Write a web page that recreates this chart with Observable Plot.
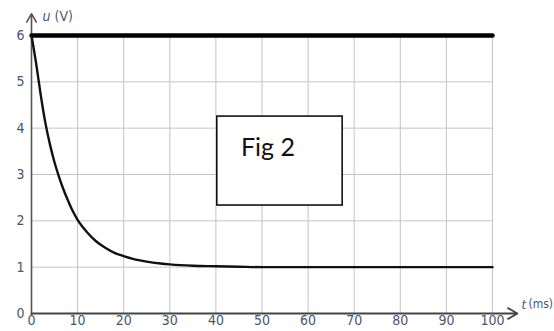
<!DOCTYPE html>
<html>
<head>
<meta charset="utf-8">
<script src="https://cdn.jsdelivr.net/npm/d3@7"></script>
<script src="https://cdn.jsdelivr.net/npm/@observablehq/plot@0.6"></script>
<style>
  html, body { margin: 0; padding: 0; background: #fff; }
  #chart { width: 554px; height: 331px; }
</style>
</head>
<body>
<div id="chart"></div>
<script>
// time (ms) and voltage (V)
const tMs = [0, 1, 2, 3, 4, 5, 6, 7, 8, 9, 10, 12, 14, 16, 18, 20, 22, 25, 28, 30, 35, 40, 45, 50, 60, 70, 80, 90, 100];
const uV  = [6.0, 5.4, 4.72, 4.12, 3.65, 3.26, 2.94, 2.66, 2.42, 2.2, 2.02, 1.76, 1.56, 1.42, 1.31, 1.24, 1.18, 1.12, 1.08, 1.06, 1.03, 1.02, 1.01, 1.0, 1.0, 1.0, 1.0, 1.0, 1.0];
const sourceT = [0, 100];
const sourceU = [6, 6];
const xTicks = [0, 10, 20, 30, 40, 50, 60, 70, 80, 90, 100];
const yTicks = [0, 1, 2, 3, 4, 5, 6];
const figLabel = "Fig 2";

const curve = tMs.map((t, i) => ({t, u: uV[i]}));
const source = sourceT.map((t, i) => ({t, u: sourceU[i]}));

const labelColor = "#4a5573";
const font = "'Liberation Sans Narrow', 'DejaVu Sans Condensed', 'Liberation Sans', sans-serif";

const chart = Plot.plot({
  width: 554,
  height: 331,
  marginLeft: 31,
  marginRight: 62,
  marginTop: 35,
  marginBottom: 18,
  x: {domain: [0, 100]},
  y: {domain: [0, 6]},
  style: {fontFamily: font, fontSize: "14px", background: "white", overflow: "visible"},
  marks: [
    Plot.gridX(xTicks.filter(d => d > 0), {stroke: "#c4c4c4", strokeOpacity: 1, strokeWidth: 1}),
    Plot.gridY(yTicks.filter(d => d > 0 && d < 6), {stroke: "#c4c4c4", strokeOpacity: 1, strokeWidth: 1}),
    Plot.axisX(xTicks, {tickSize: 0, tickPadding: 2, label: null, color: labelColor, fontSize: 14}),
    Plot.axisY(yTicks, {tickSize: 0, tickPadding: 7, label: null, color: labelColor, fontSize: 14}),
    // axes with arrows
    Plot.arrow([{}], {x1: 0, y1: -0.02, x2: 0, y2: 6.47, stroke: "#555", strokeWidth: 1.6, headLength: 9}),
    Plot.arrow([{}], {x1: 0, y1: 0, x2: 105.4, y2: 0, stroke: "#444", strokeWidth: 1.8, headLength: 9}),
    // axis labels
    Plot.text([{}], {x: 0, y: 6, text: () => "u", fontStyle: "italic", textAnchor: "start", dx: 11, dy: -19, fill: labelColor, fontSize: 14}),
    Plot.text([{}], {x: 0, y: 6, text: () => "(V)", textAnchor: "start", dx: 23, dy: -19, fill: labelColor, fontSize: 14}),
    Plot.text([{}], {x: 100, y: 0, text: () => "t", fontStyle: "italic", textAnchor: "start", dx: 29, dy: -9, fill: labelColor, fontSize: 13}),
    Plot.text([{}], {x: 100, y: 0, text: () => "(ms)", textAnchor: "start", dx: 36, dy: -9, fill: labelColor, fontSize: 12}),
    // source voltage
    Plot.line(source, {x: "t", y: "u", stroke: "#000", strokeWidth: 4.5}),
    // capacitor voltage
    Plot.line(curve, {x: "t", y: "u", stroke: "#111", strokeWidth: 2.4, curve: "monotone-x"}),
    // Fig 2 box
    Plot.rect([{}], {x1: 40.3, x2: 67.5, y1: 2.33, y2: 4.25, fill: "white", stroke: "#111", strokeWidth: 1.6}),
    Plot.text([{}], {x: 51.3, y: 3.58, text: () => figLabel, fontFamily: "Lato, 'Open Sans', sans-serif", fontSize: 25, fill: "#111"})
  ]
});

document.getElementById("chart").appendChild(chart);
</script>
</body>
</html>
